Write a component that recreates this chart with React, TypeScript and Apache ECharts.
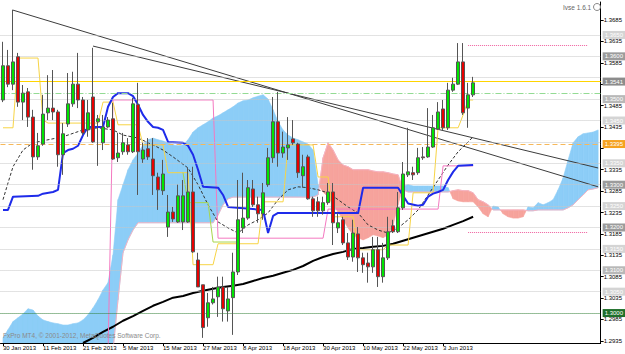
import React, { useEffect, useRef } from 'react';
import * as echarts from 'echarts';

const dateTickLabels = ['30 Jan 2013', '11 Feb 2013', '21 Feb 2013', '5 Mar 2013', '15 Mar 2013', '27 Mar 2013', '8 Apr 2013', '18 Apr 2013', '30 Apr 2013', '10 May 2013', '22 May 2013', '3 Jun 2013'];
const priceTicks = [1.2935, 1.2985, 1.3035, 1.3085, 1.3135, 1.3185, 1.3235, 1.3285, 1.3335, 1.3385, 1.3435, 1.3485, 1.3535, 1.3585, 1.3635, 1.3685];
// tick labels that are hidden under the level boxes in the reference
const coveredTickLabels = [1.3385, 1.3535];
const slotCount = 120;

// [open, close, low, high]
const candles = [
  [1.3498, 1.3578, 1.3493, 1.3634], [1.3578, 1.3535, 1.3528, 1.3615], [1.3535, 1.3587, 1.3521, 1.3709], [1.3599, 1.3493, 1.3482, 1.3608],
  [1.3493, 1.3514, 1.3451, 1.3533], [1.3517, 1.3458, 1.3435, 1.3526], [1.3458, 1.3365, 1.3335, 1.3475], [1.3365, 1.3391, 1.3358, 1.3421],
  [1.3395, 1.3465, 1.3391, 1.3510], [1.3468, 1.3479, 1.3451, 1.3556], [1.3479, 1.3470, 1.3451, 1.3568], [1.3470, 1.3370, 1.3342, 1.3475],
  [1.3370, 1.3419, 1.3323, 1.3444], [1.3442, 1.3489, 1.3435, 1.3561], [1.3489, 1.3535, 1.3482, 1.3564], [1.3535, 1.3498, 1.3479, 1.3608],
  [1.3498, 1.3421, 1.3416, 1.3505], [1.3428, 1.3468, 1.3412, 1.3498], [1.3505, 1.3400, 1.3398, 1.3620], [1.3447, 1.3454, 1.3344, 1.3463],
  [1.3398, 1.3435, 1.3381, 1.3463], [1.3435, 1.3451, 1.3433, 1.3458], [1.3454, 1.3360, 1.3358, 1.3491], [1.3363, 1.3374, 1.3353, 1.3421],
  [1.3377, 1.3398, 1.3370, 1.3421], [1.3393, 1.3377, 1.3370, 1.3409], [1.3377, 1.3489, 1.3374, 1.3503], [1.3487, 1.3377, 1.3276, 1.3538],
  [1.3360, 1.3381, 1.3351, 1.3398], [1.3384, 1.3365, 1.3358, 1.3409], [1.3360, 1.3321, 1.3276, 1.3409], [1.3318, 1.3288, 1.3241, 1.3328],
  [1.3286, 1.3325, 1.3276, 1.3358], [1.3201, 1.3236, 1.3178, 1.3276], [1.3236, 1.3220, 1.3213, 1.3248], [1.3213, 1.3274, 1.3211, 1.3300],
  [1.3213, 1.3274, 1.3194, 1.3311], [1.3213, 1.3283, 1.3211, 1.3339], [1.3283, 1.3143, 1.3141, 1.3342], [1.3124, 1.3061, 1.3061, 1.3141],
  [1.3066, 1.2966, 1.2942, 1.3066], [1.2989, 1.3024, 1.2968, 1.3047], [1.3024, 1.3033, 1.3020, 1.3061], [1.3038, 1.3061, 1.2991, 1.3085],
  [1.3061, 1.3010, 1.2980, 1.3085], [1.3005, 1.3033, 1.2980, 1.3061], [1.3036, 1.3096, 1.2949, 1.3141], [1.3096, 1.3218, 1.3089, 1.3311],
  [1.3199, 1.3222, 1.3187, 1.3328], [1.3222, 1.3293, 1.3218, 1.3311], [1.3290, 1.3253, 1.3248, 1.3311], [1.3253, 1.3232, 1.3211, 1.3272],
  [1.3232, 1.3281, 1.3218, 1.3304], [1.3300, 1.3363, 1.3295, 1.3386], [1.3363, 1.3447, 1.3351, 1.3505], [1.3447, 1.3374, 1.3342, 1.3517],
  [1.3374, 1.3388, 1.3363, 1.3424], [1.3386, 1.3393, 1.3358, 1.3458], [1.3407, 1.3398, 1.3393, 1.3451], [1.3395, 1.3328, 1.3316, 1.3398],
  [1.3321, 1.3342, 1.3293, 1.3370], [1.3365, 1.3267, 1.3265, 1.3370], [1.3267, 1.3239, 1.3225, 1.3272], [1.3260, 1.3239, 1.3225, 1.3272],
  [1.3239, 1.3258, 1.3230, 1.3272], [1.3258, 1.3283, 1.3253, 1.3304], [1.3283, 1.3211, 1.3159, 1.3304], [1.3199, 1.3211, 1.3187, 1.3234],
  [1.3218, 1.3164, 1.3159, 1.3225], [1.3164, 1.3131, 1.3124, 1.3187], [1.3131, 1.3187, 1.3120, 1.3218], [1.3185, 1.3129, 1.3096, 1.3201],
  [1.3129, 1.3113, 1.3094, 1.3141], [1.3117, 1.3108, 1.3071, 1.3141], [1.3108, 1.3148, 1.3094, 1.3178], [1.3148, 1.3085, 1.3061, 1.3178],
  [1.3085, 1.3129, 1.3071, 1.3164], [1.3129, 1.3190, 1.3124, 1.3225], [1.3204, 1.3190, 1.3187, 1.3218], [1.3190, 1.3246, 1.3187, 1.3283],
  [1.3246, 1.3325, 1.3241, 1.3353], [1.3323, 1.3330, 1.3318, 1.3433], [1.3328, 1.3323, 1.3311, 1.3342], [1.3328, 1.3363, 1.3323, 1.3386],
  [1.3365, 1.3363, 1.3358, 1.3388], [1.3365, 1.3388, 1.3363, 1.3479], [1.3388, 1.3433, 1.3386, 1.3463], [1.3430, 1.3470, 1.3428, 1.3493],
  [1.3477, 1.3433, 1.3428, 1.3498], [1.3433, 1.3521, 1.3428, 1.3538], [1.3521, 1.3535, 1.3517, 1.3550], [1.3535, 1.3587, 1.3533, 1.3631],
  [1.3587, 1.3468, 1.3463, 1.3631], [1.3479, 1.3510, 1.3433, 1.3538], [1.3510, 1.3538, 1.3505, 1.3552],
];

const spanA = [
  1.2942, 1.2961, 1.2980, 1.2989, 1.2998, 1.3010, 1.3007, 1.2993, 1.2984, 1.2980,
  1.2977, 1.2975, 1.2972, 1.2972, 1.2975, 1.2977, 1.2984, 1.2996, 1.3012, 1.3031,
  1.3054, 1.3071, 1.3136, 1.3265, 1.3300, 1.3335, 1.3358, 1.3374, 1.3393, 1.3405,
  1.3409, 1.3405, 1.3402, 1.3398, 1.3393, 1.3391, 1.3393, 1.3405, 1.3423, 1.3433,
  1.3440, 1.3447, 1.3456, 1.3461, 1.3468, 1.3475, 1.3482, 1.3491, 1.3496, 1.3498,
  1.3503, 1.3507, 1.3510, 1.3500, 1.3475, 1.3447, 1.3428, 1.3416, 1.3409, 1.3405,
  1.3400, 1.3395, 1.3381, 1.3300, 1.3283, 1.3271, 1.3253, 1.3236, 1.3218, 1.3199,
  1.3183, 1.3176, 1.3171, 1.3176, 1.3183, 1.3180, 1.3176, 1.3183, 1.3206, 1.3253,
  1.3297, 1.3300, 1.3297, 1.3297, 1.3297, 1.3297, 1.3297, 1.3297, 1.3297, 1.3293,
  1.3267, 1.3262, 1.3260, 1.3260, 1.3260, 1.3248, 1.3232, 1.3225, 1.3250, 1.3248,
  1.3232, 1.3225, 1.3222, 1.3222, 1.3225, 1.3248, 1.3246, 1.3258, 1.3253, 1.3258,
  1.3265, 1.3288, 1.3316, 1.3358, 1.3398, 1.3412, 1.3419, 1.3421, 1.3423, 1.3428,
];
const spanB = [
  1.2914, 1.2914, 1.2914, 1.2914, 1.2914, 1.2914, 1.2914, 1.2914, 1.2914, 1.2914,
  1.2914, 1.2914, 1.2914, 1.2914, 1.2914, 1.2914, 1.2914, 1.2914, 1.2914, 1.2914,
  1.2914, 1.2914, 1.2914, 1.3031, 1.3141, 1.3171, 1.3194, 1.3211, 1.3211, 1.3211,
  1.3211, 1.3211, 1.3211, 1.3211, 1.3211, 1.3211, 1.3211, 1.3211, 1.3211, 1.3211,
  1.3211, 1.3211, 1.3211, 1.3229, 1.3253, 1.3267, 1.3271, 1.3271, 1.3271, 1.3271,
  1.3271, 1.3271, 1.3271, 1.3271, 1.3271, 1.3271, 1.3271, 1.3271, 1.3271, 1.3271,
  1.3271, 1.3271, 1.3271, 1.3276, 1.3363, 1.3398, 1.3381, 1.3358, 1.3346, 1.3342,
  1.3335, 1.3335, 1.3335, 1.3335, 1.3332, 1.3330, 1.3330, 1.3328, 1.3325, 1.3323,
  1.3288, 1.3283, 1.3283, 1.3283, 1.3283, 1.3283, 1.3283, 1.3283, 1.3283, 1.3283,
  1.3286, 1.3288, 1.3286, 1.3286, 1.3281, 1.3265, 1.3260, 1.3253, 1.3241, 1.3241,
  1.3241, 1.3241, 1.3241, 1.3241, 1.3241, 1.3239, 1.3239, 1.3241, 1.3241, 1.3241,
  1.3241, 1.3241, 1.3241, 1.3246, 1.3253, 1.3265, 1.3276, 1.3288, 1.3290, 1.3293,
];

// [bar index, price]
const kijunLine = [
  [0, 1.3241], [1, 1.3241], [2, 1.3272], [7, 1.3274], [8, 1.3279], [10, 1.3283], [11, 1.3288], [12, 1.3374], [13, 1.3381],
  [14, 1.3384], [15, 1.3391], [16, 1.3416], [17, 1.3435], [20, 1.3435], [21, 1.3482], [22, 1.3505], [23, 1.3514], [25, 1.3514],
  [26, 1.3507], [27, 1.3487], [28, 1.3463], [29, 1.3447], [30, 1.3435], [31, 1.3433], [32, 1.3428], [33, 1.3400], [36, 1.3398],
  [37, 1.3391], [38, 1.3370], [39, 1.3335], [40, 1.3295], [43, 1.3293], [44, 1.3276], [45, 1.3248], [52, 1.3241], [53, 1.3187],
  [54, 1.3227], [55, 1.3234], [71, 1.3234], [72, 1.3293], [79, 1.3293], [80, 1.3274], [81, 1.3256], [83, 1.3251], [84, 1.3253],
  [85, 1.3272], [86, 1.3279], [87, 1.3283], [88, 1.3288], [89, 1.3311], [90, 1.3330], [91, 1.3344], [94, 1.3346],
];
const tenkanLine = [
  [0, 1.3433], [2, 1.3433], [3, 1.3596], [7, 1.3596], [8, 1.3451], [9, 1.3444], [19, 1.3444], [20, 1.3493], [22, 1.3493],
  [23, 1.3440], [27, 1.3440], [28, 1.3393], [32, 1.3393], [33, 1.3328], [37, 1.3328], [38, 1.3113], [42, 1.3113], [43, 1.3162],
  [51, 1.3162], [52, 1.3260], [56, 1.3260], [57, 1.3393], [62, 1.3393], [63, 1.3318], [65, 1.3318], [66, 1.3225], [70, 1.3225],
  [71, 1.3148], [76, 1.3148], [77, 1.3159], [81, 1.3159], [82, 1.3281], [86, 1.3281], [87, 1.3433], [91, 1.3433], [92, 1.3463],
  [93, 1.3498], [94, 1.3498],
];
const laggingLine = [[36, 1.3328], [37, 1.3258], [41, 1.3258], [42, 1.3166], [47, 1.3166]];
const pinkLine = [[21, 1.2905], [22, 1.3498], [42, 1.3498], [43, 1.3175], [64, 1.3175], [65, 1.3243], [87, 1.3243], [88, 1.3344], [94, 1.3344]];
const maSlow = [
  [16, 1.2930], [18, 1.2942], [20, 1.2956], [22, 1.2968], [24, 1.2982], [26, 1.2993], [28, 1.3005], [30, 1.3017], [32, 1.3026],
  [34, 1.3036], [36, 1.3040], [38, 1.3047], [40, 1.3052], [42, 1.3057], [44, 1.3061], [46, 1.3064], [48, 1.3068], [50, 1.3075],
  [52, 1.3082], [54, 1.3087], [56, 1.3094], [58, 1.3101], [60, 1.3110], [62, 1.3122], [64, 1.3131], [66, 1.3138], [68, 1.3143],
  [70, 1.3150], [72, 1.3152], [74, 1.3155], [76, 1.3157], [78, 1.3162], [80, 1.3169], [82, 1.3176], [84, 1.3183], [86, 1.3190],
  [88, 1.3197], [90, 1.3206], [92, 1.3215], [94, 1.3225],
];
const maFast = [
  [0, 1.3265], [1, 1.3304], [2, 1.3342], [4, 1.3381], [6, 1.3398], [9, 1.3405], [12, 1.3412], [16, 1.3428], [19, 1.3433],
  [22, 1.3428], [24, 1.3416], [27, 1.3409], [30, 1.3393], [32, 1.3381], [34, 1.3365], [37, 1.3339], [39, 1.3300], [41, 1.3253],
  [43, 1.3213], [45, 1.3199], [47, 1.3187], [49, 1.3206], [51, 1.3218], [53, 1.3234], [55, 1.3265], [57, 1.3288], [59, 1.3295],
  [61, 1.3293], [63, 1.3288], [65, 1.3281], [67, 1.3265], [69, 1.3248], [71, 1.3234], [73, 1.3206], [75, 1.3194], [77, 1.3187],
  [79, 1.3199], [81, 1.3218], [83, 1.3241], [85, 1.3276], [87, 1.3311], [89, 1.3346], [91, 1.3377], [93, 1.3400], [94, 1.3412],
];
const trendUpper = [[2, 1.3708], [119, 1.3295]];
const trendLower = [[18, 1.3624], [119, 1.3339]];

const roundLevels = [1.3650, 1.3600, 1.3550, 1.3500, 1.3450, 1.3400, 1.3350, 1.3300, 1.3250, 1.3200, 1.3150, 1.3100, 1.3050];
const hiddenLabelLevels = [1.3550, 1.3400];
const darkLabelLevels = [1.3600, 1.3300, 1.3200];
const midLabelLevels = [1.3500, 1.3100];
const supportLevel = 1.3000;
const yellowLevel = 1.3541;
const dashDotLevel = 1.3514;
const orangeLevel = 1.3395;
const pinkLevels = [1.3627, 1.3190];
const pinkLevelRange = [93, 117];

const FONT = 'Liberation Sans, Arial, sans-serif';
const CLOUD_UP = '#8ccdf7';
const CLOUD_DN = '#f6a39c';

const near = (list: number[], v: number) => list.some((h) => Math.abs(h - v) < 1e-6);

function boxLabel(bg: string) {
  return {
    show: true,
    position: 'end',
    distance: 2,
    formatter: (p: any) => Number(p.value).toFixed(4),
    backgroundColor: bg,
    color: '#fff',
    fontSize: 6,
    fontFamily: FONT,
    padding: [1, 2, 1, 2],
  };
}

function buildOption() {
  const categories = Array.from({ length: slotCount }, (_, i) => String(i));
  const cloudData = spanA.slice(0, -1).map((a, i) => [i, a, spanB[i], spanA[i + 1], spanB[i + 1]]);
  const shownTickLabels = priceTicks.filter((v) => !near(coveredTickLabels, v));

  const levelMarks: any[] = roundLevels.map((v) => {
    const bg = near(darkLabelLevels, v) ? '#9c9c9c' : near(midLabelLevels, v) ? '#b8b8b8' : '#d4d4d4';
    return {
      yAxis: v,
      lineStyle: { color: '#c6c6c6', type: 'dotted', width: 1 },
      label: near(hiddenLabelLevels, v) ? { show: false } : boxLabel(bg),
    };
  });
  levelMarks.push({ yAxis: supportLevel, lineStyle: { color: '#2e7d32', type: 'dotted', width: 1 }, label: boxLabel('#1f6f2b') });
  levelMarks.push({ yAxis: yellowLevel, lineStyle: { color: '#ffd400', type: 'solid', width: 1 }, label: boxLabel('#8c8c8c') });
  levelMarks.push({ yAxis: dashDotLevel, lineStyle: { color: '#93db93', type: [6, 2, 1, 2], width: 1 }, label: { show: false } });
  levelMarks.push({ yAxis: orangeLevel, lineStyle: { color: '#f6b85a', type: [5, 3], width: 1 }, label: boxLabel('#f5a21f') });
  pinkLevels.forEach((v) => {
    levelMarks.push([
      { coord: [pinkLevelRange[0], v], lineStyle: { color: '#f0609f', type: 'dotted', width: 1 }, label: { show: false } },
      { coord: [pinkLevelRange[1], v] },
    ]);
  });

  const lineSeries = (name: string, data: any[], color: string, width: number, z: number, type: any = 'solid') => ({
    name,
    type: 'line',
    data,
    symbol: 'none',
    silent: true,
    clip: true,
    z,
    lineStyle: { color, width, type },
  });

  return {
    animation: false,
    textStyle: { fontFamily: FONT },
    grid: { left: 0, right: 24, top: 2, bottom: 11 },
    xAxis: {
      type: 'category',
      data: categories,
      boundaryGap: true,
      axisLine: { show: true, lineStyle: { color: '#000', width: 1 } },
      axisTick: {
        show: true,
        alignWithLabel: true,
        length: 3,
        interval: (i: number) => i % 8 === 0 && i / 8 < dateTickLabels.length,
        lineStyle: { color: '#000' },
      },
      axisLabel: {
        interval: (i: number) => i % 8 === 0 && i / 8 < dateTickLabels.length,
        formatter: (_v: string, i: number) => dateTickLabels[i / 8] ?? '',
        align: 'left',
        fontSize: 6,
        margin: 2,
        color: '#000',
        fontFamily: FONT,
      },
      splitLine: { show: false },
    },
    yAxis: {
      type: 'value',
      position: 'right',
      min: 1.293,
      max: 1.3727,
      axisLine: { show: true, lineStyle: { color: '#000', width: 1 } },
      axisTick: { show: true, length: 3, customValues: priceTicks, lineStyle: { color: '#000' } },
      axisLabel: {
        customValues: shownTickLabels,
        formatter: (v: number) => v.toFixed(4),
        fontSize: 6,
        margin: 3,
        color: '#000',
        fontFamily: FONT,
      },
      splitLine: { show: false },
    },
    graphic: [
      { type: 'text', left: 563, top: 4, z: 100, style: { text: 'Ivse 1.6.1', fontSize: 6.5, fill: '#666', fontFamily: FONT } },
      { type: 'circle', z: 100, shape: { cx: 597, cy: 7, r: 3.5 }, style: { fill: 'none', stroke: '#888', lineWidth: 1 } },
      {
        type: 'text',
        left: 3,
        top: 332,
        z: 100,
        style: { text: 'FxPro MT4, \u00a9 2001-2012, MetaQuotes Software Corp.', fontSize: 6.5, fill: '#8a8a8a', fontFamily: FONT },
      },
    ],
    series: [
      {
        name: 'cloud',
        type: 'custom',
        data: cloudData,
        encode: { x: 0, y: [1, 2, 3, 4] },
        clip: true,
        silent: true,
        z: 1,
        renderItem: (_params: any, api: any) => {
          const i = api.value(0);
          const a0 = api.value(1), b0 = api.value(2), a1 = api.value(3), b1 = api.value(4);
          const pA0 = api.coord([i, a0]);
          const pB0 = api.coord([i, b0]);
          const pA1 = api.coord([i + 1, a1]);
          const pB1 = api.coord([i + 1, b1]);
          const mk = (pts: number[][], col: string) => ({
            type: 'polygon',
            shape: { points: pts },
            style: { fill: col, stroke: col, lineWidth: 0.6 },
          });
          const d0 = a0 - b0;
          const d1 = a1 - b1;
          if (d0 * d1 >= 0) {
            return mk([pA0, pA1, pB1, pB0], d0 + d1 >= 0 ? CLOUD_UP : CLOUD_DN);
          }
          const t = d0 / (d0 - d1);
          const pX = [pA0[0] + (pA1[0] - pA0[0]) * t, pA0[1] + (pA1[1] - pA0[1]) * t];
          return {
            type: 'group',
            children: [mk([pA0, pX, pB0], d0 > 0 ? CLOUD_UP : CLOUD_DN), mk([pX, pA1, pB1], d1 > 0 ? CLOUD_UP : CLOUD_DN)],
          };
        },
      },
      lineSeries('spanB', spanB.map((v, i) => [i, v]), '#f4b3c2', 1, 2),
      {
        name: 'levels',
        type: 'line',
        data: [],
        silent: true,
        z: 2,
        markLine: { silent: true, symbol: ['none', 'none'], precision: 4, animation: false, data: levelMarks },
      },
      lineSeries('maSlow', maSlow, '#000', 2, 3),
      lineSeries('maFast', maFast, '#333', 1, 3, [3, 2]),
      lineSeries('trendUpper', trendUpper, '#3c3c3c', 1, 3),
      lineSeries('trendLower', trendLower, '#3c3c3c', 1, 3),
      lineSeries('pink', pinkLine, '#f478c0', 1, 3),
      lineSeries('tenkan', tenkanLine, '#f7d445', 1, 3),
      lineSeries('lagging', laggingLine, '#a9d64c', 1, 3),
      lineSeries('kijun', kijunLine, '#1e2bea', 2, 4),
      {
        name: 'price',
        type: 'candlestick',
        data: candles,
        barWidth: 3,
        silent: true,
        z: 5,
        itemStyle: {
          color: '#00e400',
          color0: '#e80000',
          borderColor: '#555',
          borderColor0: '#555',
          borderWidth: 1,
        },
      },
    ],
  };
}

export default function App() {
  const ref = useRef<HTMLDivElement>(null);
  useEffect(() => {
    if (!ref.current) return;
    const chart = echarts.init(ref.current, null, { renderer: 'svg' });
    chart.setOption(buildOption() as any);
    return () => chart.dispose();
  }, []);
  return (
    <div
      ref={ref}
      style={{ position: 'fixed', left: 0, top: 0, width: 625, height: 354, background: '#fff' }}
    />
  );
}
